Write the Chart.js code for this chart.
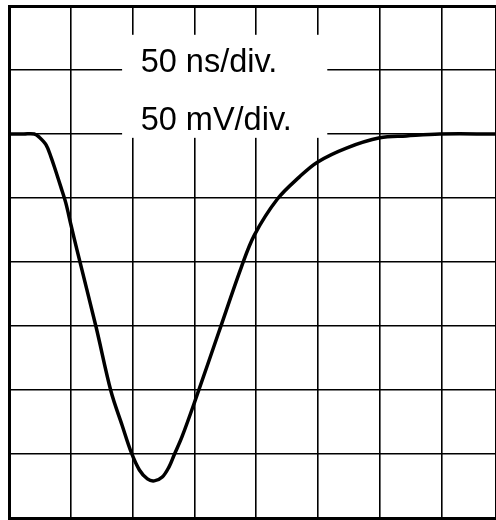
<!DOCTYPE html>
<html>
<head>
<meta charset="utf-8">
<script src="https://cdn.jsdelivr.net/npm/chart.js@4/dist/chart.umd.min.js"></script>
<style>
  html, body { margin: 0; padding: 0; background: #fff; }
  #wrap { width: 496px; height: 520px; }
</style>
</head>
<body>
<div id="wrap"><canvas id="scope" width="496" height="520"></canvas></div>
<script>
// Scope trace in divisions (x: time, y: voltage)
var timeDiv = [0, 0.24, 0.41, 0.49, 0.60, 0.68, 0.76, 0.84, 0.92, 1.00, 1.10, 1.41, 1.65, 1.83,
               1.98, 2.11, 2.24, 2.35, 2.48, 2.59, 2.67, 2.80, 3.01, 3.39, 3.76, 3.97, 4.34, 4.70,
               4.99, 5.46, 6.00, 6.43, 6.97, 7.88];
var voltDiv = [6.00, 6.00, 6.00, 5.95, 5.83, 5.64, 5.41, 5.17, 4.92, 4.59, 4.19, 2.98, 1.98, 1.45,
               1.02, 0.75, 0.61, 0.58, 0.64, 0.80, 0.98, 1.27, 1.83, 2.89, 3.92, 4.42, 4.98, 5.33,
               5.56, 5.78, 5.94, 5.97, 6.00, 6.00];
var scaleLabels = ['50 ns/div.', '50 mV/div.'];

var points = timeDiv.map(function (t, i) { return { x: t, y: voltDiv[i] }; });

// white label box with the scale settings, sits on top of the graticule
var labelBox = {
  id: 'labelBox',
  beforeDatasetsDraw: function (chart) {
    var c = chart.ctx, xs = chart.scales.x, ys = chart.scales.y;
    var x0 = xs.getPixelForValue(1.83), x1 = xs.getPixelForValue(5.15);
    var y0 = ys.getPixelForValue(7.55), y1 = ys.getPixelForValue(5.94);
    c.save();
    c.fillStyle = '#fff';
    c.fillRect(x0, y0, x1 - x0, y1 - y0);
    c.fillStyle = '#000';
    c.font = '32.5px "Liberation Sans", Arial, sans-serif';
    c.textBaseline = 'alphabetic';
    var tx = xs.getPixelForValue(2.13);
    c.fillText(scaleLabels[0], tx, ys.getPixelForValue(6.97));
    c.fillText(scaleLabels[1], tx, ys.getPixelForValue(6.06));
    c.restore();
  }
};

var ctx = document.getElementById('scope').getContext('2d');
var scope = new Chart(ctx, {
  type: 'line',
  data: {
    datasets: [{
      data: points,
      borderColor: '#000',
      borderWidth: 3.5,
      pointRadius: 0,
      fill: false,
      tension: 0.35
    }]
  },
  options: {
    responsive: false,
    animation: false,
    layout: { padding: { left: 9, top: 6, right: 0, bottom: 2 } },
    plugins: { legend: { display: false }, tooltip: { enabled: false } },
    scales: {
      x: {
        type: 'linear', min: 0, max: 7.88,
        ticks: { display: false, stepSize: 1 },
        grid: {
          color: '#000', drawTicks: false,
          lineWidth: function (c) { return c.tick && c.tick.value === 0 ? 3 : 1.6; }
        },
        border: { display: true, color: '#000', width: 3 }
      },
      y: {
        min: 0, max: 8,
        ticks: { display: false, stepSize: 1 },
        grid: {
          color: '#000', drawTicks: false,
          lineWidth: function (c) { return c.tick && (c.tick.value === 8 || c.tick.value === 0) ? 3 : 1.6; }
        },
        border: { display: true, color: '#000', width: 3 }
      }
    }
  },
  plugins: [labelBox]
});
</script>
</body>
</html>
